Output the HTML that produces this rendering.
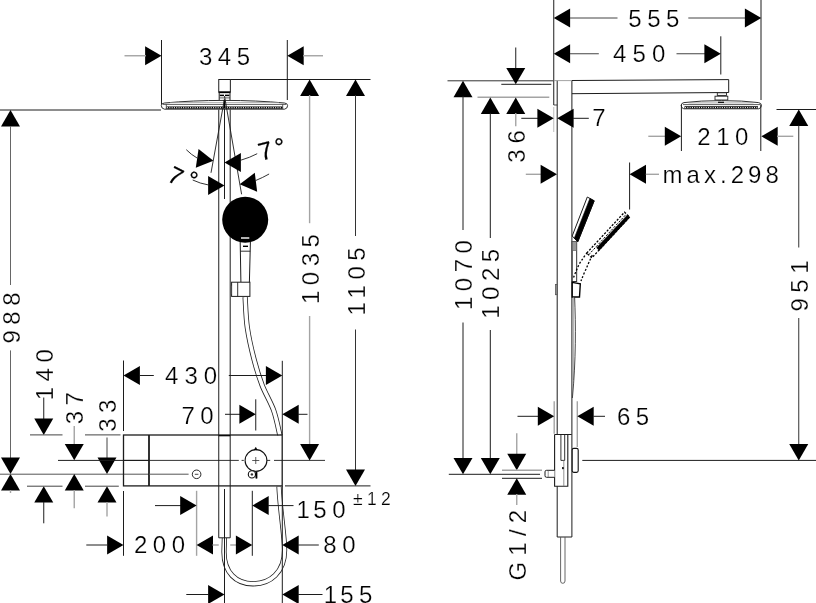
<!DOCTYPE html>
<html><head><meta charset="utf-8"><title>Shower system dimensions</title>
<style>
html,body{margin:0;padding:0;background:#fff;}
body{width:816px;height:603px;overflow:hidden;}
svg{display:block;will-change:transform;filter:grayscale(1);}
text{font-family:"Liberation Sans",sans-serif;fill:#000;stroke:#fff;stroke-width:0.22px;}
</style></head><body>
<svg width="816" height="603" viewBox="0 0 816 603">
<rect width="816" height="603" fill="#fff"/>
<path d="M245.1,297 C245.5,302.1 245.8,317.3 247.35,327.8 C248.9,338.3 251.7,350.4 254.2,360 C256.7,369.6 258.9,376.8 262.1,385.2 C265.3,393.6 270.7,402.1 273.65,410.4 C276.6,418.7 278.8,430.9 279.8,435" fill="none" stroke="#222" stroke-width="5.2" stroke-linecap="butt"/>
<path d="M245.1,297 C245.5,302.1 245.8,317.3 247.35,327.8 C248.9,338.3 251.7,350.4 254.2,360 C256.7,369.6 258.9,376.8 262.1,385.2 C265.3,393.6 270.7,402.1 273.65,410.4 C276.6,418.7 278.8,430.9 279.8,435" fill="none" stroke="#fff" stroke-width="3.6" stroke-linecap="butt"/>
<path d="M279,486.5 C280,510 284.6,535 284.6,550 C284.6,572.5 270,583.8 253,583.8 C236,583.8 224,572.5 224,552 L224.4,538" fill="none" stroke="#222" stroke-width="5.2" stroke-linecap="butt"/>
<path d="M279,486.5 C280,510 284.6,535 284.6,550 C284.6,572.5 270,583.8 253,583.8 C236,583.8 224,572.5 224,552 L224.4,538" fill="none" stroke="#fff" stroke-width="3.6" stroke-linecap="butt"/>
<line x1="161.5" y1="40" x2="161.5" y2="105" stroke="#1c1c1c" stroke-width="1.0" />
<line x1="287.3" y1="40" x2="287.3" y2="100" stroke="#1c1c1c" stroke-width="1.0" />
<polygon points="161.50,55.75 145.10,65.25 145.10,46.25" fill="#000"/>
<line x1="124.5" y1="55.75" x2="146" y2="55.75" stroke="#a4a4a4" stroke-width="1.4" />
<polygon points="287.30,55.75 303.70,46.25 303.70,65.25" fill="#000"/>
<line x1="303" y1="55.75" x2="323" y2="55.75" stroke="#a4a4a4" stroke-width="1.4" />
<text x="199" y="65.3" font-size="24" letter-spacing="5.5" text-anchor="start" >345</text>
<rect x="218.75" y="79.5" width="11.6" height="12.6" fill="none" stroke="#1c1c1c" stroke-width="1.0" />
<line x1="230.4" y1="79.5" x2="370.5" y2="79.5" stroke="#1c1c1c" stroke-width="1.0" />
<line x1="218.75" y1="92.3" x2="230.35" y2="92.3" stroke="#000" stroke-width="1.7" />
<line x1="219.2" y1="92.3" x2="219.2" y2="100.3" stroke="#1c1c1c" stroke-width="1.0" />
<line x1="230.0" y1="92.3" x2="230.0" y2="100.3" stroke="#1c1c1c" stroke-width="1.0" />
<line x1="219.8" y1="95.4" x2="224" y2="95.4" stroke="#000" stroke-width="1.5" />
<line x1="225" y1="95.4" x2="229.4" y2="95.4" stroke="#000" stroke-width="1.5" />
<line x1="219.2" y1="97.9" x2="230" y2="97.9" stroke="#333" stroke-width="0.8" />
<path d="M161.3,105.6 Q161.3,103.3 164.5,103 Q192,100.4 224.5,100.4 Q257,100.4 284.5,103 Q287.6,103.3 287.6,105.6 Q287.6,108.6 284.5,109.2 L164.5,109.2 Q161.3,108.6 161.3,105.6 Z" fill="#fff" stroke="#1c1c1c" stroke-width="0.9" />
<line x1="170" y1="102.5" x2="279" y2="102.5" stroke="#999" stroke-width="0.7" />
<line x1="163" y1="104.4" x2="286" y2="104.4" stroke="#333" stroke-width="0.8" />
<line x1="166.5" y1="107.6" x2="282.5" y2="107.6" stroke="#000" stroke-width="2.3" />
<line x1="167" y1="107.7" x2="282" y2="107.7" stroke="#fff" stroke-width="1.0" stroke-dasharray="1.1 1.2"/>
<line x1="166.3" y1="104.4" x2="166.3" y2="109" stroke="#333" stroke-width="0.8" />
<line x1="282.7" y1="104.4" x2="282.7" y2="109" stroke="#333" stroke-width="0.8" />
<line x1="224.5" y1="100" x2="224.5" y2="108" stroke="#000" stroke-width="1.6" />
<line x1="218.75" y1="109.5" x2="218.75" y2="537.8" stroke="#1c1c1c" stroke-width="1.0" />
<line x1="230.2" y1="109.5" x2="230.2" y2="537.8" stroke="#1c1c1c" stroke-width="1.0" />
<line x1="218.75" y1="537.8" x2="230.2" y2="537.8" stroke="#1c1c1c" stroke-width="1.0" />
<line x1="224.5" y1="109" x2="224.5" y2="199" stroke="#1c1c1c" stroke-width="1.0" />
<line x1="224.5" y1="489" x2="224.5" y2="603" stroke="#1c1c1c" stroke-width="1.0" />
<line x1="224.5" y1="99" x2="211" y2="172.8" stroke="#1c1c1c" stroke-width="0.9" />
<line x1="224.5" y1="96" x2="241.6" y2="194.3" stroke="#1c1c1c" stroke-width="0.9" />
<polygon points="213.40,160.80 195.80,167.83 198.54,149.03" fill="#000"/>
<path d="M197.5,158.3 Q191,154.5 186.3,149.7" fill="none" stroke="#1c1c1c" stroke-width="0.9" />
<polygon points="224.50,162.40 240.90,152.90 240.90,171.90" fill="#000"/>
<path d="M240.8,160.2 Q250,157.5 257.2,153.7" fill="none" stroke="#1c1c1c" stroke-width="0.9" />
<polygon points="224.50,185.50 208.10,195.00 208.10,176.00" fill="#000"/>
<path d="M208.6,185 Q200,183.5 192.7,180" fill="none" stroke="#1c1c1c" stroke-width="0.9" />
<polygon points="239.70,184.30 254.82,172.87 257.14,191.73" fill="#000"/>
<path d="M255.5,180.6 Q263,177.5 269.1,174" fill="none" stroke="#1c1c1c" stroke-width="0.9" />
<text x="261.0" y="161.0" font-size="25" letter-spacing="3.5" text-anchor="start" transform="rotate(-15 261.0 161.0)" style="stroke:#111;stroke-width:0.25px">7°</text>
<text x="166.1" y="180.3" font-size="24" letter-spacing="3.5" text-anchor="start" transform="rotate(27 166.1 180.3)" dx="0 0.8" dy="0 -4" style="stroke:#111;stroke-width:0.25px">7°</text>
<circle cx="245.2" cy="219.8" r="23" fill="#000"/>
<line x1="241" y1="238" x2="249.3" y2="238" stroke="#fff" stroke-width="1.4" />
<path d="M240.2,242 L240.9,282 M250.4,242 L249.4,282" fill="none" stroke="#1c1c1c" stroke-width="1.0" />
<line x1="240.3" y1="251.2" x2="250.3" y2="251.2" stroke="#1c1c1c" stroke-width="0.9" />
<line x1="243" y1="246.3" x2="248" y2="246.3" stroke="#000" stroke-width="1.4" />
<rect x="231.6" y="282.2" width="18.3" height="14.2" fill="#fff" stroke="#1c1c1c" stroke-width="1.0" />
<line x1="237.7" y1="282.2" x2="237.7" y2="296.4" stroke="#1c1c1c" stroke-width="0.9" />
<rect x="230.4" y="286" width="1.2" height="8" fill="none" stroke="#555" stroke-width="0.7" />
<line x1="0" y1="110" x2="161" y2="110" stroke="#1c1c1c" stroke-width="1.0" />
<polygon points="10.50,110.00 20.00,126.40 1.00,126.40" fill="#000"/>
<line x1="10.5" y1="126" x2="10.5" y2="285" stroke="#666" stroke-width="1.0" />
<line x1="10.5" y1="350.4" x2="10.5" y2="458" stroke="#666" stroke-width="1.0" />
<text x="20.2" y="343.5" font-size="24" letter-spacing="5.5" text-anchor="start" transform="rotate(-90 20.2 343.5)" >988</text>
<polygon points="10.50,474.00 1.00,457.60 20.00,457.60" fill="#000"/>
<polygon points="10.50,474.00 20.00,490.40 1.00,490.40" fill="#000"/>
<line x1="10.5" y1="490" x2="10.5" y2="493" stroke="#a4a4a4" stroke-width="1.4" />
<line x1="0" y1="474.2" x2="149" y2="474.2" stroke="#555" stroke-width="1.0" />
<text x="52.8" y="400.3" font-size="24" letter-spacing="5.5" text-anchor="start" transform="rotate(-90 52.8 400.3)" >140</text>
<line x1="43.75" y1="397.5" x2="43.75" y2="419" stroke="#1c1c1c" stroke-width="1.0" />
<polygon points="43.75,434.90 34.25,418.50 53.25,418.50" fill="#000"/>
<line x1="30" y1="434.9" x2="62.5" y2="434.9" stroke="#444" stroke-width="1.0" />
<polygon points="43.75,486.20 53.25,502.60 34.25,502.60" fill="#000"/>
<line x1="43.75" y1="502" x2="43.75" y2="523.3" stroke="#1c1c1c" stroke-width="1.0" />
<line x1="27" y1="486.2" x2="62.5" y2="486.2" stroke="#444" stroke-width="1.0" />
<text x="83.3" y="424.3" font-size="24" letter-spacing="5.5" text-anchor="start" transform="rotate(-90 83.3 424.3)" >37</text>
<line x1="74.25" y1="426" x2="74.25" y2="445" stroke="#a4a4a4" stroke-width="1.4" />
<polygon points="74.25,460.30 64.75,443.90 83.75,443.90" fill="#000"/>
<polygon points="74.25,474.00 83.75,490.40 64.75,490.40" fill="#000"/>
<line x1="74.25" y1="490" x2="74.25" y2="508.3" stroke="#a4a4a4" stroke-width="1.4" />
<text x="116" y="431.8" font-size="24" letter-spacing="5.5" text-anchor="start" transform="rotate(-90 116 431.8)" >33</text>
<line x1="107" y1="437.5" x2="107" y2="458" stroke="#444" stroke-width="1.0" />
<polygon points="107.00,474.00 97.50,457.60 116.50,457.60" fill="#000"/>
<line x1="85" y1="434.9" x2="120.5" y2="434.9" stroke="#444" stroke-width="1.0" />
<polygon points="107.00,486.20 116.50,502.60 97.50,502.60" fill="#000"/>
<line x1="107" y1="502" x2="107" y2="516.5" stroke="#a4a4a4" stroke-width="1.4" />
<line x1="85" y1="486.2" x2="118.8" y2="486.2" stroke="#444" stroke-width="1.0" />
<rect x="123.5" y="435" width="158.7" height="50.9" fill="none" stroke="#1c1c1c" stroke-width="1.3" />
<line x1="218.75" y1="435.7" x2="230.2" y2="435.7" stroke="#000" stroke-width="1.2" />
<line x1="149.0" y1="435" x2="149.0" y2="485.9" stroke="#1c1c1c" stroke-width="1.8" />
<line x1="58" y1="460.4" x2="123.5" y2="460.4" stroke="#1c1c1c" stroke-width="1.0" />
<line x1="123.5" y1="460.4" x2="149.0" y2="460.4" stroke="#1c1c1c" stroke-width="1.2" />
<line x1="149.0" y1="474.2" x2="188.6" y2="474.2" stroke="#555" stroke-width="1.0" />
<line x1="149.3" y1="460.4" x2="238.8" y2="460.4" stroke="#1c1c1c" stroke-width="0.9" />
<line x1="241.6" y1="460.4" x2="243.8" y2="460.4" stroke="#1c1c1c" stroke-width="0.9" />
<line x1="266.3" y1="460.4" x2="270.2" y2="460.4" stroke="#1c1c1c" stroke-width="0.9" />
<line x1="274" y1="460.4" x2="325" y2="460.4" stroke="#1c1c1c" stroke-width="0.9" />
<circle cx="256.0" cy="460.5" r="10.9" fill="#fff" stroke="#111" stroke-width="1.1"/>
<line x1="252.2" y1="460.5" x2="259.3" y2="460.5" stroke="#333" stroke-width="0.8" />
<line x1="255.75" y1="457" x2="255.75" y2="464" stroke="#333" stroke-width="0.8" />
<path d="M254.3,449.8 L255.75,447.3 L257.2,449.8 Z" fill="#000" stroke="#000" stroke-width="0.5" />
<circle cx="196.6" cy="474.3" r="4.3" fill="#fff" stroke="#111" stroke-width="0.9"/>
<line x1="194.8" y1="474.3" x2="198.4" y2="474.3" stroke="#333" stroke-width="0.9" />
<circle cx="251.9" cy="474.4" r="3.6" fill="#fff" stroke="#111" stroke-width="1.1"/>
<circle cx="251.9" cy="474.4" r="1.2" fill="#333"/>
<rect x="255.8" y="472.2" width="1.3" height="6.2" fill="#000" stroke="#000" stroke-width="0.4" />
<line x1="255.75" y1="399.3" x2="255.75" y2="430.5" stroke="#1c1c1c" stroke-width="1.0" />
<line x1="123.5" y1="360.5" x2="123.5" y2="431" stroke="#1c1c1c" stroke-width="1.0" />
<polygon points="123.50,375.50 139.90,366.00 139.90,385.00" fill="#000"/>
<line x1="139" y1="375.5" x2="153.8" y2="375.5" stroke="#1c1c1c" stroke-width="1.0" />
<text x="165.1" y="383.8" font-size="24" letter-spacing="6.0" text-anchor="start" >430</text>
<line x1="228.8" y1="375.5" x2="266" y2="375.5" stroke="#1c1c1c" stroke-width="1.0" />
<polygon points="282.30,375.50 265.90,385.00 265.90,366.00" fill="#000"/>
<line x1="282.3" y1="360.8" x2="282.3" y2="435" stroke="#1c1c1c" stroke-width="1.0" />
<line x1="282.3" y1="486" x2="282.3" y2="603" stroke="#1c1c1c" stroke-width="1.0" />
<text x="181.5" y="423.5" font-size="24" letter-spacing="5.5" text-anchor="start" >70</text>
<line x1="225" y1="414.3" x2="240" y2="414.3" stroke="#1c1c1c" stroke-width="1.0" />
<polygon points="255.75,414.30 239.35,423.80 239.35,404.80" fill="#000"/>
<polygon points="282.30,414.30 298.70,404.80 298.70,423.80" fill="#000"/>
<line x1="298" y1="414.3" x2="307.5" y2="414.3" stroke="#1c1c1c" stroke-width="1.0" />
<polygon points="309.60,79.50 319.10,95.90 300.10,95.90" fill="#000"/>
<line x1="309.6" y1="95" x2="309.6" y2="223.2" stroke="#a4a4a4" stroke-width="1.4" />
<text x="319.3" y="304" font-size="24" letter-spacing="5.5" text-anchor="start" transform="rotate(-90 319.3 304)" >1035</text>
<line x1="309.6" y1="316" x2="309.6" y2="445" stroke="#a4a4a4" stroke-width="1.4" />
<polygon points="309.60,460.40 300.10,444.00 319.10,444.00" fill="#000"/>
<polygon points="355.50,79.50 365.00,95.90 346.00,95.90" fill="#000"/>
<line x1="355.5" y1="95" x2="355.5" y2="236" stroke="#333" stroke-width="1.0" />
<text x="364.9" y="315.5" font-size="24" letter-spacing="5.5" text-anchor="start" transform="rotate(-90 364.9 315.5)" >1105</text>
<line x1="355.5" y1="329.5" x2="355.5" y2="470" stroke="#333" stroke-width="1.0" />
<polygon points="355.50,485.90 346.00,469.50 365.00,469.50" fill="#000"/>
<line x1="285" y1="485.9" x2="370.5" y2="485.9" stroke="#1c1c1c" stroke-width="1.0" />
<line x1="123.5" y1="491" x2="123.5" y2="555.8" stroke="#1c1c1c" stroke-width="1.0" />
<line x1="196.6" y1="490.8" x2="196.6" y2="555.8" stroke="#a4a4a4" stroke-width="1.4" />
<line x1="252.3" y1="490.8" x2="252.3" y2="555.8" stroke="#1c1c1c" stroke-width="1.0" />
<line x1="155" y1="505.6" x2="181" y2="505.6" stroke="#1c1c1c" stroke-width="1.0" />
<polygon points="196.60,505.60 180.20,515.10 180.20,496.10" fill="#000"/>
<polygon points="252.30,505.60 268.70,496.10 268.70,515.10" fill="#000"/>
<line x1="268" y1="505.6" x2="293.5" y2="505.6" stroke="#1c1c1c" stroke-width="1.0" />
<text x="296.5" y="518.3" font-size="24" letter-spacing="5.5" text-anchor="start" dx="0 -2">150</text>
<text x="353.0" y="505.3" font-size="17.5" letter-spacing="4.3" text-anchor="start" >±12</text>
<line x1="86.3" y1="545" x2="107" y2="545" stroke="#1c1c1c" stroke-width="1.0" />
<polygon points="123.50,545.00 107.10,554.50 107.10,535.50" fill="#000"/>
<text x="134" y="553.3" font-size="24" letter-spacing="5.5" text-anchor="start" >200</text>
<polygon points="196.60,545.00 213.00,535.50 213.00,554.50" fill="#000"/>
<line x1="212.5" y1="545" x2="218.75" y2="545" stroke="#a4a4a4" stroke-width="1.4" />
<line x1="230.2" y1="545" x2="236.5" y2="545" stroke="#a4a4a4" stroke-width="1.4" />
<polygon points="252.30,545.00 235.90,554.50 235.90,535.50" fill="#000"/>
<polygon points="282.30,545.00 298.70,535.50 298.70,554.50" fill="#000"/>
<line x1="298" y1="545" x2="318.8" y2="545" stroke="#1c1c1c" stroke-width="1.0" />
<text x="323.3" y="553.3" font-size="24" letter-spacing="5.5" text-anchor="start" >80</text>
<line x1="186.3" y1="594.5" x2="208.5" y2="594.5" stroke="#1c1c1c" stroke-width="1.0" />
<polygon points="224.50,594.50 208.10,604.00 208.10,585.00" fill="#000"/>
<polygon points="282.30,594.50 298.70,585.00 298.70,604.00" fill="#000"/>
<line x1="298" y1="594.5" x2="322.5" y2="594.5" stroke="#1c1c1c" stroke-width="1.0" />
<text x="323.8" y="602.6" font-size="24" letter-spacing="5.5" text-anchor="start" dx="0 -2.5">155</text>
<line x1="553.75" y1="0" x2="553.75" y2="105" stroke="#1c1c1c" stroke-width="1.0" />
<line x1="553.75" y1="107" x2="553.75" y2="132" stroke="#bbb" stroke-width="1.0" />
<line x1="557.2" y1="80.5" x2="557.2" y2="434.5" stroke="#1c1c1c" stroke-width="1.0" />
<line x1="557.2" y1="486.2" x2="557.2" y2="537" stroke="#1c1c1c" stroke-width="1.0" />
<line x1="571.9" y1="80.5" x2="571.9" y2="537" stroke="#1c1c1c" stroke-width="1.0" />
<line x1="557.2" y1="537" x2="571.9" y2="537" stroke="#1c1c1c" stroke-width="1.0" />
<line x1="553.75" y1="105" x2="557.2" y2="105" stroke="#1c1c1c" stroke-width="0.8" />
<line x1="447.5" y1="80.8" x2="553.75" y2="80.8" stroke="#333" stroke-width="1.0" />
<line x1="553.75" y1="80.6" x2="571.9" y2="80.6" stroke="#999" stroke-width="0.9" />
<line x1="571.9" y1="80.5" x2="728.7" y2="79.6" stroke="#1c1c1c" stroke-width="1.0" />
<line x1="571.9" y1="93.7" x2="728.7" y2="92.5" stroke="#1c1c1c" stroke-width="1.0" />
<line x1="728.7" y1="79.6" x2="728.7" y2="92.5" stroke="#1c1c1c" stroke-width="1.0" />
<rect x="717.3" y="92.8" width="9.2" height="2.6" fill="#fff" stroke="#222" stroke-width="0.9" />
<rect x="715" y="96.2" width="12.8" height="3.8" fill="#fff" stroke="#222" stroke-width="0.9" />
<path d="M681.2,105.5 Q681.2,103 684,102.6 Q700,100.6 721.5,100.6 Q743,100.6 758.5,102.6 Q761.4,103 761.4,105.5 Q761.4,108 758.8,108.8 L683.8,108.8 Q681.2,108 681.2,105.5 Z" fill="#fff" stroke="#1c1c1c" stroke-width="0.9" />
<line x1="688.5" y1="102.9" x2="753.5" y2="102.9" stroke="#888" stroke-width="0.7" />
<line x1="683" y1="104.6" x2="760" y2="104.6" stroke="#333" stroke-width="0.8" />
<line x1="684.5" y1="107.3" x2="758" y2="107.3" stroke="#000" stroke-width="2.3" />
<line x1="685" y1="107.6" x2="757.5" y2="107.6" stroke="#fff" stroke-width="1.0" stroke-dasharray="1.1 1.2"/>
<line x1="718" y1="102.3" x2="724" y2="102.3" stroke="#000" stroke-width="1.2" />
<polygon points="553.75,18.00 570.15,8.50 570.15,27.50" fill="#000"/>
<line x1="570" y1="18" x2="617.5" y2="18" stroke="#444" stroke-width="1.0" />
<text x="628.3" y="26.6" font-size="24" letter-spacing="5.5" text-anchor="start" >555</text>
<line x1="688.3" y1="18" x2="745" y2="18" stroke="#444" stroke-width="1.0" />
<polygon points="761.30,18.00 744.90,27.50 744.90,8.50" fill="#000"/>
<line x1="761.0" y1="0" x2="761.0" y2="100" stroke="#1c1c1c" stroke-width="1.0" />
<polygon points="553.75,53.75 570.15,44.25 570.15,63.25" fill="#000"/>
<line x1="570" y1="53.75" x2="598.8" y2="53.75" stroke="#444" stroke-width="1.0" />
<text x="613.1" y="62.2" font-size="24" letter-spacing="6.1" text-anchor="start" >450</text>
<line x1="676.5" y1="53.75" x2="705" y2="53.75" stroke="#444" stroke-width="1.0" />
<polygon points="720.80,53.75 704.40,63.25 704.40,44.25" fill="#000"/>
<line x1="720.8" y1="36.3" x2="720.8" y2="74.5" stroke="#1c1c1c" stroke-width="1.0" />
<line x1="681.4" y1="104.6" x2="681.4" y2="151" stroke="#1c1c1c" stroke-width="1.0" />
<line x1="760.8" y1="104.6" x2="760.8" y2="151" stroke="#1c1c1c" stroke-width="1.0" />
<line x1="648.3" y1="136.3" x2="665.5" y2="136.3" stroke="#a4a4a4" stroke-width="1.4" />
<polygon points="681.20,136.30 664.80,145.80 664.80,126.80" fill="#000"/>
<polygon points="761.30,136.30 777.70,126.80 777.70,145.80" fill="#000"/>
<line x1="777" y1="136.3" x2="793.3" y2="136.3" stroke="#a4a4a4" stroke-width="1.4" />
<text x="697.3" y="144.7" font-size="24" letter-spacing="5.5" text-anchor="start" >210</text>
<line x1="515.75" y1="47.5" x2="515.75" y2="68.5" stroke="#1c1c1c" stroke-width="1.0" />
<polygon points="515.75,84.30 506.25,67.90 525.25,67.90" fill="#000"/>
<line x1="501.3" y1="84.3" x2="551.3" y2="84.3" stroke="#1c1c1c" stroke-width="1.0" />
<line x1="477.5" y1="97.3" x2="549.3" y2="97.3" stroke="#a4a4a4" stroke-width="1.4" />
<polygon points="515.75,97.50 525.25,113.90 506.25,113.90" fill="#000"/>
<line x1="515.75" y1="113" x2="515.75" y2="126.3" stroke="#a4a4a4" stroke-width="1.4" />
<text x="524.8" y="162.8" font-size="24" letter-spacing="6.0" text-anchor="start" transform="rotate(-90 524.8 162.8)" >36</text>
<line x1="521.3" y1="118.3" x2="538" y2="118.3" stroke="#1c1c1c" stroke-width="1.0" />
<polygon points="553.75,118.30 537.35,127.80 537.35,108.80" fill="#000"/>
<polygon points="557.20,118.30 573.60,108.80 573.60,127.80" fill="#000"/>
<line x1="573" y1="118.3" x2="588.8" y2="118.3" stroke="#1c1c1c" stroke-width="1.0" />
<text x="592.3" y="126.4" font-size="24" letter-spacing="5.5" text-anchor="start" >7</text>
<polygon points="463.00,80.80 472.50,97.20 453.50,97.20" fill="#000"/>
<line x1="463" y1="96" x2="463" y2="230" stroke="#1c1c1c" stroke-width="1.0" />
<text x="472.3" y="310" font-size="24" letter-spacing="5.5" text-anchor="start" transform="rotate(-90 472.3 310)" >1070</text>
<line x1="463" y1="322.5" x2="463" y2="458" stroke="#1c1c1c" stroke-width="1.0" />
<polygon points="463.00,474.30 453.50,457.90 472.50,457.90" fill="#000"/>
<polygon points="490.30,97.50 499.80,113.90 480.80,113.90" fill="#000"/>
<line x1="490.3" y1="113" x2="490.3" y2="238" stroke="#1c1c1c" stroke-width="1.0" />
<text x="499.3" y="318.8" font-size="24" letter-spacing="5.5" text-anchor="start" transform="rotate(-90 499.3 318.8)" >1025</text>
<line x1="490.3" y1="330" x2="490.3" y2="458" stroke="#1c1c1c" stroke-width="1.0" />
<polygon points="490.30,474.30 480.80,457.90 499.80,457.90" fill="#000"/>
<line x1="448.8" y1="474.3" x2="540" y2="474.3" stroke="#1c1c1c" stroke-width="1.0" />
<line x1="525.8" y1="174.3" x2="541.5" y2="174.3" stroke="#a4a4a4" stroke-width="1.4" />
<polygon points="557.00,174.30 540.60,183.80 540.60,164.80" fill="#000"/>
<line x1="629.6" y1="162.5" x2="629.6" y2="209.5" stroke="#1c1c1c" stroke-width="1.0" />
<polygon points="629.60,174.30 646.00,164.80 646.00,183.80" fill="#000"/>
<line x1="645.8" y1="174.3" x2="659" y2="174.3" stroke="#a4a4a4" stroke-width="1.4" />
<text x="662.5" y="182.6" font-size="24" letter-spacing="4.05" text-anchor="start" >max.298</text>
<line x1="776.5" y1="109.5" x2="816" y2="109.5" stroke="#1c1c1c" stroke-width="1.0" />
<polygon points="798.75,109.50 808.25,125.90 789.25,125.90" fill="#000"/>
<line x1="798.75" y1="125.5" x2="798.75" y2="247.5" stroke="#333" stroke-width="1.0" />
<text x="807.8" y="311.5" font-size="24" letter-spacing="5.5" text-anchor="start" transform="rotate(-90 807.8 311.5)" >951</text>
<line x1="798.75" y1="318" x2="798.75" y2="445" stroke="#333" stroke-width="1.0" />
<polygon points="798.75,460.50 789.25,444.10 808.25,444.10" fill="#000"/>
<line x1="582.3" y1="460.4" x2="816" y2="460.4" stroke="#1c1c1c" stroke-width="1.0" />
<line x1="554.2" y1="401.3" x2="554.2" y2="433.8" stroke="#a4a4a4" stroke-width="1.4" />
<line x1="577.3" y1="401.3" x2="577.3" y2="447" stroke="#a4a4a4" stroke-width="1.4" />
<line x1="517.5" y1="416.3" x2="538.5" y2="416.3" stroke="#1c1c1c" stroke-width="1.0" />
<polygon points="554.20,416.30 537.80,425.80 537.80,406.80" fill="#000"/>
<polygon points="577.30,416.30 593.70,406.80 593.70,425.80" fill="#000"/>
<line x1="593.3" y1="416.3" x2="605" y2="416.3" stroke="#1c1c1c" stroke-width="1.0" />
<text x="617" y="425.2" font-size="24" letter-spacing="5.5" text-anchor="start" >65</text>
<line x1="516.75" y1="433.3" x2="516.75" y2="455" stroke="#a4a4a4" stroke-width="1.4" />
<polygon points="516.75,470.20 507.25,453.80 526.25,453.80" fill="#000"/>
<line x1="502" y1="470.2" x2="542" y2="470.2" stroke="#a4a4a4" stroke-width="1.4" />
<polygon points="516.75,478.30 526.25,494.70 507.25,494.70" fill="#000"/>
<line x1="516.75" y1="494" x2="516.75" y2="505" stroke="#a4a4a4" stroke-width="1.4" />
<line x1="502" y1="478.3" x2="542" y2="478.3" stroke="#1c1c1c" stroke-width="1.0" />
<text x="526" y="580.5" font-size="24" letter-spacing="6.2" text-anchor="start" transform="rotate(-90 526 580.5)" >G1/2</text>
<path d="M587.3,197 L594.2,200.8 L577.8,241.8 L572.2,236 Z" fill="#fff" stroke="#1c1c1c" stroke-width="1.0" />
<path d="M589.9,198.4 L594.2,200.8 L577.8,241.8 L574.3,238.2 Z" fill="#000" stroke="#000" stroke-width="0.6" />
<rect x="572.2" y="241.5" width="4.5" height="40" fill="#fff" stroke="#1c1c1c" stroke-width="0.9" />
<rect x="572.2" y="241.5" width="4.5" height="9" fill="#999" stroke="#555" stroke-width="0.6" />
<path d="M572.2,282.4 L580.3,283.8 L579.5,297 L572.2,297 Z" fill="#fff" stroke="#000" stroke-width="1.4" />
<line x1="573.4" y1="297" x2="573.4" y2="380" stroke="#888" stroke-width="0.7" />
<path d="M574.6,297 C575.8,325 576,360 572.4,398" fill="none" stroke="#333" stroke-width="0.9" />
<rect x="555.6" y="284.4" width="1.4" height="10.3" fill="#aaa" stroke="#555" stroke-width="0.8" />
<path d="M586.7,253.1 L624.5,212.2 L629.6,217 L591.8,257.9 Z" fill="none" stroke="#000" stroke-width="1.3" stroke-dasharray="2.2 1.5"/>
<line x1="588.6" y1="254.9" x2="626.4" y2="214" stroke="#000" stroke-width="1.0" stroke-dasharray="2.2 1.5"/>
<path d="M596.6,247.8 L627.4,214.9 L629.9,217.2 L599.2,250.4 Z" fill="#000" stroke="#000" stroke-width="0.5" />
<path d="M587.3,252.6 C583,258 579,264 577.8,267.1 C576,271 574.5,275 573.4,278 M592.3,255.1 C590,260 588,264 586.7,267.7 C584.5,272 582.5,277 581,281" fill="none" stroke="#000" stroke-width="1.3" stroke-dasharray="2 1.8"/>
<path d="M554.6,434.5 L571.7,434.5 M554.6,434.5 L554.6,486.2 L567.8,486.2 L567.8,434.5" fill="none" stroke="#1c1c1c" stroke-width="1.1" />
<line x1="560.9" y1="434.5" x2="560.9" y2="460.4" stroke="#1c1c1c" stroke-width="0.9" />
<line x1="564.7" y1="434.5" x2="564.7" y2="460.4" stroke="#1c1c1c" stroke-width="0.9" />
<line x1="560.9" y1="460.4" x2="564.7" y2="460.4" stroke="#1c1c1c" stroke-width="0.9" />
<line x1="563.8" y1="460.4" x2="563.8" y2="486.2" stroke="#777" stroke-width="0.8" />
<rect x="562.3" y="467.5" width="1.2" height="1.4" fill="#000" stroke="#000" stroke-width="0.5" />
<path d="M554.6,470.3 L546.6,470.3 Q545,470.3 545,471.8 L545,475.8 Q545,477.3 546.6,477.3 L554.6,477.3" fill="#fff" stroke="#1c1c1c" stroke-width="1.0" />
<line x1="548.2" y1="470.3" x2="548.2" y2="477.3" stroke="#666" stroke-width="0.7" />
<rect x="572.2" y="448.4" width="6" height="24" rx="1.6" fill="#fff" stroke="#111" stroke-width="1.1"/>
<path d="M560.6,537 L560.6,581 Q560.6,583.3 562.8,583.3 Q565,583.3 565,581 L565,537" fill="none" stroke="#555" stroke-width="0.9" />
</svg>
</body></html>
